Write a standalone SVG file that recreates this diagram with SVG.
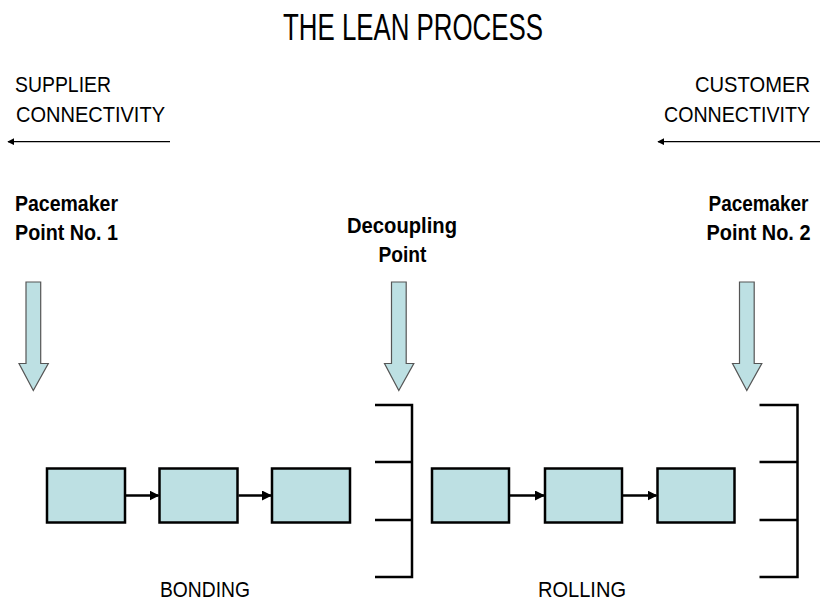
<svg xmlns="http://www.w3.org/2000/svg" width="829" height="603" viewBox="0 0 829 603">
<defs>
<style>
.t{font-family:"Liberation Sans",Arial,sans-serif;fill:#000}
.lbl{font-size:21.5px}
.b{font-size:21.5px;font-weight:bold}
.title{font-family:"Liberation Sans Narrow","Liberation Sans",Arial,sans-serif;font-size:36px;fill:#000}
.box{fill:#BDE0E3;stroke:#000;stroke-width:2.5}
.down{fill:#BDE0E3;stroke:#555;stroke-width:1.2}
.ln{stroke:#000;stroke-width:2.5;fill:none}
.thin{stroke:#000;stroke-width:1.3;fill:none}
</style>
<marker id="ah" viewBox="0 0 10 10" refX="9" refY="5" markerWidth="10" markerHeight="10" markerUnits="userSpaceOnUse" orient="auto">
<path d="M0,0 L10,5 L0,10 Z" fill="#000"/>
</marker>
<marker id="ahs" viewBox="0 0 10 10" refX="9" refY="5" markerWidth="7" markerHeight="7" markerUnits="userSpaceOnUse" orient="auto">
<path d="M0,0 L10,5 L0,10 Z" fill="#000"/>
</marker>
</defs>
<rect width="829" height="603" fill="#fff"/>

<text class="title" x="413" y="39.5" text-anchor="middle" textLength="260" lengthAdjust="spacingAndGlyphs">THE LEAN PROCESS</text>

<g id="supplier">
<text class="t lbl" x="15" y="91.5" textLength="96" lengthAdjust="spacingAndGlyphs">SUPPLIER</text>
<text class="t lbl" x="16" y="121.5" textLength="149" lengthAdjust="spacingAndGlyphs">CONNECTIVITY</text>
</g>
<g id="customer">
<text class="t lbl" x="810" y="91.5" text-anchor="end" textLength="115" lengthAdjust="spacingAndGlyphs">CUSTOMER</text>
<text class="t lbl" x="810" y="121.5" text-anchor="end" textLength="146" lengthAdjust="spacingAndGlyphs">CONNECTIVITY</text>
</g>

<g id="pacemaker1">
<text class="t b" x="15" y="210.5" textLength="103" lengthAdjust="spacingAndGlyphs">Pacemaker</text>
<text class="t b" x="15" y="240" textLength="103" lengthAdjust="spacingAndGlyphs">Point No. 1</text>
<path class="down" d="M26,282 H40.7 V363.5 H48.3 L33.3,390.5 L19,363.5 H26 Z"/>
</g>
<g id="decoupling">
<text class="t b" x="402" y="233" text-anchor="middle" textLength="110" lengthAdjust="spacingAndGlyphs">Decoupling</text>
<text class="t b" x="402.5" y="262" text-anchor="middle" textLength="48" lengthAdjust="spacingAndGlyphs">Point</text>
<path class="down" d="M391.5,282 H406.2 V363.5 H413.8 L398.8,390.5 L384.5,363.5 H391.5 Z"/>
</g>
<g id="pacemaker2">
<text class="t b" x="808.5" y="210.5" text-anchor="end" textLength="100" lengthAdjust="spacingAndGlyphs">Pacemaker</text>
<text class="t b" x="810.5" y="240" text-anchor="end" textLength="104" lengthAdjust="spacingAndGlyphs">Point No. 2</text>
<path class="down" d="M739.5,282 H754.2 V363.5 H761.8 L746.8,390.5 L732.5,363.5 H739.5 Z"/>
</g>

<g id="bonding">
<rect id="b1" class="box" x="47" y="468.5" width="78" height="54"/>
<rect id="b2" class="box" x="159.5" y="468.5" width="78" height="54"/>
<rect id="b3" class="box" x="272" y="468.5" width="78" height="54"/>
<text class="t lbl" x="205" y="596.5" text-anchor="middle" textLength="90" lengthAdjust="spacingAndGlyphs">BONDING</text>
</g>
<g id="rolling">
<rect id="r1" class="box" x="432" y="468.5" width="77" height="54"/>
<rect id="r2" class="box" x="545" y="468.5" width="77" height="54"/>
<rect id="r3" class="box" x="657.5" y="468.5" width="77" height="54"/>
<text class="t lbl" x="582" y="596.5" text-anchor="middle" textLength="88" lengthAdjust="spacingAndGlyphs">ROLLING</text>
</g>

<g id="bracket1">
<path class="ln" d="M375,405 H412 V577 H375 M375,462 H412 M375,520 H412"/>
</g>
<g id="bracket2">
<path class="ln" d="M759.5,405 H797.5 V577 H759.5 M759.5,462 H797.5 M759.5,520 H797.5"/>
</g>

<g id="connectors">
<line class="thin" x1="170" y1="141.7" x2="8" y2="141.7" marker-end="url(#ahs)"/>
<line class="thin" x1="820" y1="141.7" x2="658" y2="141.7" marker-end="url(#ahs)"/>
<line class="ln" x1="126" y1="495.5" x2="158.5" y2="495.5" marker-end="url(#ah)"/>
<line class="ln" x1="238.5" y1="495.5" x2="271" y2="495.5" marker-end="url(#ah)"/>
<line class="ln" x1="510" y1="495.5" x2="544" y2="495.5" marker-end="url(#ah)"/>
<line class="ln" x1="623" y1="495.5" x2="656.5" y2="495.5" marker-end="url(#ah)"/>
</g>
</svg>
